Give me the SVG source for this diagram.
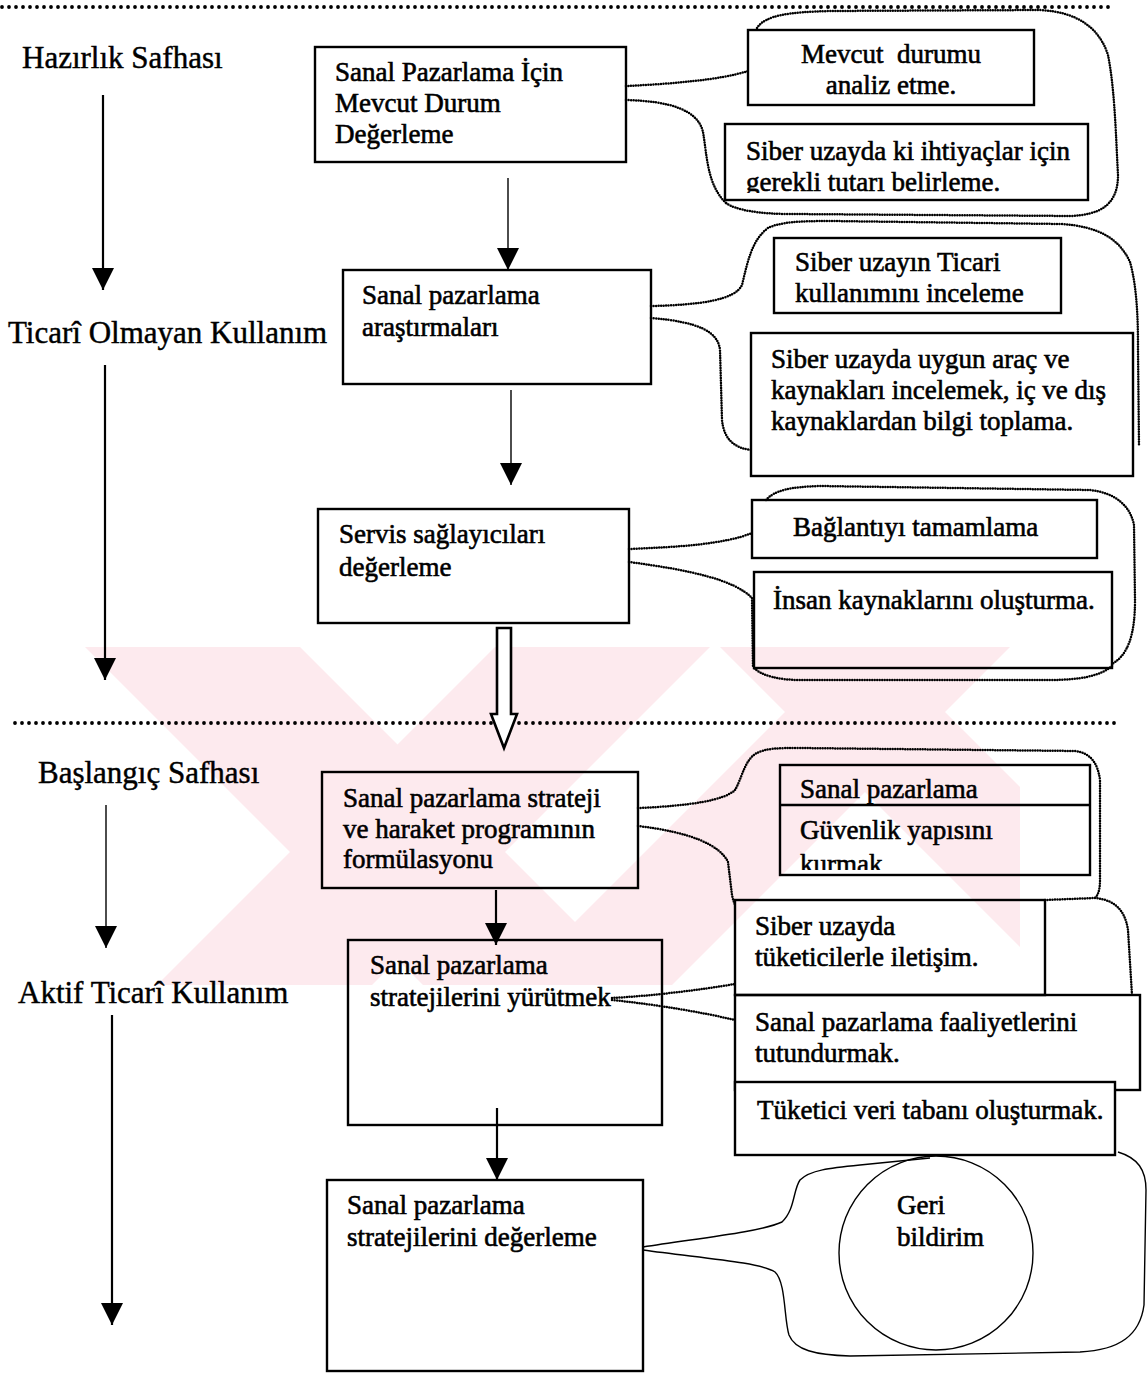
<svg xmlns="http://www.w3.org/2000/svg" width="1148" height="1373" viewBox="0 0 1148 1373">
<defs>
<style>
.box{fill:none;stroke:#000;stroke-width:2.4}
.wbox{fill:#fff;stroke:#000;stroke-width:2.4}
.t{font-family:"Liberation Serif","Times New Roman",serif;font-size:27px;fill:#000;stroke:#000;stroke-width:0.6}
.lbl{font-family:"Liberation Serif","Times New Roman",serif;font-size:31px;fill:#000;stroke:#000;stroke-width:0.45}
.dot{fill:none;stroke:#000;stroke-width:2.5;stroke-dasharray:0 2.5;stroke-linecap:round}
.sep{fill:none;stroke:#000;stroke-width:3.8;stroke-dasharray:0 7;stroke-linecap:round}
.ln{fill:none;stroke:#000;stroke-width:2.2}
.thin{fill:none;stroke:#000;stroke-width:1.4}
.solid{fill:none;stroke:#000;stroke-width:1.4}
.wm{fill:#fdeaee}
</style>
<marker id="ah" viewBox="0 0 10 10" refX="10" refY="5" markerUnits="userSpaceOnUse" markerWidth="24" markerHeight="22" orient="auto">
<path d="M0,0 L10,5 L0,10 Z" fill="#000"/>
</marker>
<clipPath id="cR2"><rect x="720" y="120" width="380" height="73"/></clipPath>
<clipPath id="cR7"><rect x="775" y="805" width="320" height="65"/></clipPath>
<clipPath id="cWM"><rect x="80" y="647" width="940" height="338"/></clipPath>
</defs>

<g id="watermark" clip-path="url(#cWM)">
<polygon class="wm" points="85,647 300,647 638,985 423,985"/>
<polygon class="wm" points="495,647 710,647 372,985 157,985"/>
<polygon class="wm" points="720,647 880,647 1218,985 1058,985"/>
<polygon class="wm" points="850,647 1010,647 672,985 512,985"/>
</g>

<g id="separators">
<line class="sep" x1="2" y1="7" x2="1115" y2="7"/>
<line class="sep" x1="15" y1="723" x2="1120" y2="723"/>
</g>

<g id="phase-labels">
<g id="lbl-hazirlik"><text class="lbl" x="22" y="68">Hazırlık Safhası</text></g>
<g id="lbl-ticari-olmayan"><text class="lbl" x="8" y="343">Ticarî Olmayan Kullanım</text></g>
<g id="lbl-baslangic"><text class="lbl" x="38" y="783">Başlangıç Safhası</text></g>
<g id="lbl-aktif"><text class="lbl" x="18" y="1003">Aktif Ticarî Kullanım</text></g>
</g>

<g id="connectors">
<line class="ln" x1="103" y1="95" x2="103" y2="290" marker-end="url(#ah)"/>
<line class="ln" x1="105" y1="365" x2="105" y2="680" marker-end="url(#ah)"/>
<line class="thin" x1="106" y1="805" x2="106" y2="948" marker-end="url(#ah)"/>
<line class="ln" x1="112" y1="1015" x2="112" y2="1325" marker-end="url(#ah)"/>

<line class="thin" x1="508" y1="178" x2="508" y2="270" marker-end="url(#ah)"/>
<line class="thin" x1="511" y1="390" x2="511" y2="485" marker-end="url(#ah)"/>
<polygon points="497,628 511,628 511,714 517,714 504,748 491,714 497,714" fill="#fff" stroke="#000" stroke-width="2.6" stroke-linejoin="miter"/>
<line class="ln" x1="496" y1="890" x2="496" y2="945" marker-end="url(#ah)"/>
<line class="ln" x1="497" y1="1108" x2="497" y2="1180" marker-end="url(#ah)"/>

<!-- cloud 1 -->
<path class="dot" d="M626,86 C670,84 720,80 748,71"/>
<path class="dot" d="M757,28 C765,15 790,12 830,11 L1040,10 C1080,12 1100,30 1108,55 C1115,90 1116,140 1118,175 C1118,205 1100,215 1070,216 L790,214 C760,214 735,210 726,203"/>
<path class="dot" d="M626,100 C670,101 698,110 703,132 C707,155 707,185 726,203"/>
<!-- cloud 2 -->
<path class="dot" d="M651,306 C700,305 735,300 742,285 C748,260 752,240 768,228 C780,222 800,221 830,221 L1060,224 C1100,226 1120,240 1130,262 C1138,290 1138,330 1138,350 L1139,445"/>
<path class="dot" d="M651,318 C700,322 718,332 720,350 L722,420 C724,440 735,448 751,450"/>
<!-- cloud 3 -->
<path class="dot" d="M629,549 C680,547 725,544 752,533"/>
<path class="dot" d="M766,500 C775,490 790,487 820,486 L1090,490 C1115,493 1130,505 1134,525 L1135,600 C1135,635 1128,655 1112,664"/>
<path class="dot" d="M1112,666 C1100,676 1080,680 1050,680 L800,680 C780,680 762,676 754,668"/>
<path class="dot" d="M629,562 C690,570 735,580 752,598 L753,668"/>
<!-- cloud 4 -->
<path class="dot" d="M638,808 C690,806 725,800 735,790 C742,778 744,762 755,754 C765,748 780,748 800,748 L1075,751 C1092,753 1098,765 1100,780 L1100,880 C1100,890 1098,895 1095,898"/>
<path class="dot" d="M638,826 C690,832 720,845 728,862 L732,895 C733,900 734,902 735,905"/>
<!-- cloud 5 -->
<path class="dot" d="M1045,900 L1095,898 C1115,900 1125,910 1128,930 L1132,995"/>
<path class="dot" d="M612,998 C650,996 700,990 735,984"/>
<path class="dot" d="M612,1000 C660,1005 700,1012 735,1020"/>
<!-- cloud 6 (solid) -->
<path class="solid" d="M643,1247 C700,1238 760,1232 782,1222 C795,1210 793,1190 800,1180 C810,1170 830,1168 860,1165 L930,1158"/>
<path class="solid" d="M643,1250 C700,1258 760,1262 775,1272 C786,1282 784,1320 789,1335 C795,1350 815,1355 850,1356 L1080,1352 C1120,1350 1140,1335 1144,1305 L1146,1190 C1146,1170 1138,1158 1118,1152"/>
</g>

<g id="n-mevcut-durum">
<rect class="box" x="315" y="47" width="311" height="115"/>
<text class="t" x="335" y="81">Sanal Pazarlama İçin</text>
<text class="t" x="335" y="112">Mevcut Durum</text>
<text class="t" x="335" y="143">Değerleme</text>
</g>
<g id="n-arastirma">
<rect class="box" x="343" y="270" width="308" height="114"/>
<text class="t" x="362" y="304">Sanal pazarlama</text>
<text class="t" x="362" y="336">araştırmaları</text>
</g>
<g id="n-servis">
<rect class="box" x="318" y="509" width="311" height="114"/>
<text class="t" x="339" y="543">Servis sağlayıcıları</text>
<text class="t" x="339" y="576">değerleme</text>
</g>
<g id="n-strateji">
<rect class="box" x="322" y="772" width="316" height="116"/>
<text class="t" x="343" y="807">Sanal pazarlama strateji</text>
<text class="t" x="343" y="838">ve haraket programının</text>
<text class="t" x="343" y="868">formülasyonu</text>
</g>
<g id="n-yurutmek">
<rect class="box" x="348" y="940" width="314" height="185"/>
<text class="t" x="370" y="974">Sanal pazarlama</text>
<text class="t" x="370" y="1006">stratejilerini yürütmek</text>
</g>
<g id="n-degerleme">
<rect class="box" x="327" y="1180" width="316" height="191"/>
<text class="t" x="347" y="1214">Sanal pazarlama</text>
<text class="t" x="347" y="1246">stratejilerini değerleme</text>
</g>

<g id="n-analiz">
<rect class="box" x="748" y="30" width="286" height="75"/>
<text class="t" x="891" y="63" text-anchor="middle" xml:space="preserve">Mevcut  durumu</text>
<text class="t" x="891" y="94" text-anchor="middle">analiz etme.</text>
</g>
<g id="n-tutar">
<rect class="box" x="725" y="124" width="363" height="76"/>
<text class="t" x="746" y="160">Siber uzayda ki ihtiyaçlar için</text>
<text class="t" x="746" y="191" clip-path="url(#cR2)">gerekli tutarı belirleme.</text>
</g>
<g id="n-ticari-kullanim">
<rect class="box" x="774" y="238" width="287" height="75"/>
<text class="t" x="795" y="271">Siber uzayın Ticari</text>
<text class="t" x="795" y="302">kullanımını inceleme</text>
</g>
<g id="n-arac-kaynak">
<rect class="box" x="751" y="333" width="382" height="143"/>
<text class="t" x="771" y="368">Siber uzayda uygun araç ve</text>
<text class="t" x="771" y="399">kaynakları incelemek, iç ve dış</text>
<text class="t" x="771" y="430">kaynaklardan bilgi toplama.</text>
</g>
<g id="n-baglanti">
<rect class="box" x="752" y="500" width="345" height="58"/>
<text class="t" x="793" y="536">Bağlantıyı tamamlama</text>
</g>
<g id="n-insan">
<rect class="box" x="754" y="572" width="358" height="96"/>
<text class="t" x="773" y="609">İnsan kaynaklarını oluşturma.</text>
</g>
<g id="n-guvenlik">
<rect class="box" x="780" y="765" width="310" height="110"/>
<line x1="780" y1="805" x2="1090" y2="805" stroke="#000" stroke-width="2.4"/>
<text class="t" x="800" y="798">Sanal pazarlama</text>
<text class="t" x="800" y="839">Güvenlik yapısını</text>
<text class="t" x="800" y="873" clip-path="url(#cR7)">kurmak</text>
</g>
<g id="n-iletisim">
<rect class="box" x="735" y="900" width="310" height="95"/>
<text class="t" x="755" y="935">Siber uzayda</text>
<text class="t" x="755" y="966">tüketicilerle iletişim.</text>
</g>
<g id="n-tutundurma">
<rect class="box" x="735" y="995" width="405" height="95"/>
<text class="t" x="755" y="1031">Sanal pazarlama faaliyetlerini</text>
<text class="t" x="755" y="1062">tutundurmak.</text>
</g>
<g id="n-veritabani">
<rect class="wbox" x="735" y="1082" width="380" height="73"/>
<text class="t" x="757" y="1119">Tüketici veri tabanı oluşturmak.</text>
</g>
<g id="n-geri-bildirim">
<circle cx="936" cy="1253" r="97" fill="none" stroke="#000" stroke-width="1.4"/>
<text class="t" x="897" y="1214">Geri</text>
<text class="t" x="897" y="1246">bildirim</text>
</g>
</svg>
